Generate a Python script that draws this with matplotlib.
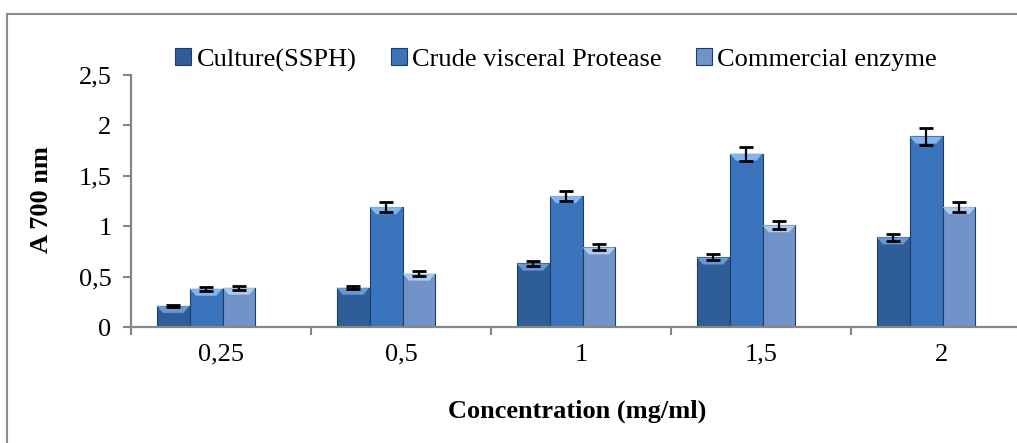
import matplotlib
matplotlib.use("Agg")
import matplotlib.pyplot as plt
from matplotlib.patches import Polygon, Rectangle
import numpy as np

plt.rcParams['font.family'] = ['Liberation Serif', 'DejaVu Serif']

# data
concentrations = ["0,25", "0,5", "1", "1,5", "2"]
culture = [0.21, 0.39, 0.63, 0.69, 0.89]
crude = [0.38, 1.19, 1.30, 1.72, 1.89]
commercial = [0.39, 0.53, 0.79, 1.01, 1.19]
culture_err = [0.01, 0.015, 0.025, 0.03, 0.035]
crude_err = [0.02, 0.05, 0.05, 0.07, 0.08]
commercial_err = [0.02, 0.025, 0.03, 0.04, 0.05]
series_names = ["Culture(SSPH)", "Crude visceral Protease", "Commercial enzyme"]

colors = ["#2e5d98", "#3a74bc", "#7094c9"]
top_colors = ["#6f9fd8", "#8dbcf0", "#b4cff0"]

fig = plt.figure(figsize=(10.17, 4.43), dpi=100)
ax = fig.add_axes([131 / 1017, 116 / 443, 900 / 1017, 252 / 443])

x = np.arange(len(concentrations))
w = 0.183
shift = -0.083
handles = []
for k, (vals, errs) in enumerate(zip([culture, crude, commercial],
                                     [culture_err, crude_err, commercial_err])):
    pos = x + shift + (k - 1) * w
    bars = ax.bar(pos, vals, w, color=colors[k], edgecolor="#1f3d66",
                  linewidth=0.8, label=series_names[k], zorder=2)
    handles.append(bars)
    # light bevel on the top of each bar
    for b in bars:
        x0 = b.get_x()
        x1 = x0 + b.get_width()
        h = b.get_height()
        d = 0.07
        poly = Polygon([(x0, h), (x1, h), (x1 - 0.035, h - d), (x0 + 0.035, h - d)],
                       closed=True, facecolor=top_colors[k], edgecolor="none",
                       alpha=0.9, zorder=3)
        ax.add_patch(poly)
    ax.errorbar(pos, vals, yerr=errs, fmt="none", ecolor="black",
                elinewidth=1.6, capsize=5, capthick=2, zorder=4)

ax.set_xlim(-0.5, 4.5)
ax.set_ylim(0, 2.5)
ax.set_yticks([0, 0.5, 1, 1.5, 2, 2.5])
ax.set_yticklabels(["0", "0,5", "1", "1,5", "2", "2,5"])
ax.set_xticks(x)
ax.set_xticklabels(concentrations)
ax.set_xticks(np.arange(-0.5, 5, 1), minor=True)
ax.tick_params(axis="x", which="major", length=0, pad=12, labelsize=19)
ax.tick_params(axis="x", which="minor", length=6, width=1.5, color="#868686")
ax.tick_params(axis="y", length=6, width=1.5, color="#868686", labelsize=19, pad=8)

for s in ["top", "right"]:
    ax.spines[s].set_visible(False)
for s in ["left", "bottom"]:
    ax.spines[s].set_color("#868686")
    ax.spines[s].set_linewidth(1.6)

fig.text(577 / 1017, 1 - 411 / 443, "Concentration (mg/ml)", ha="center",
         va="center", fontsize=19, fontweight="bold")
fig.text(41 / 1017, 1 - 200 / 443, "A 700 nm", ha="center", va="center",
         rotation=90, fontsize=19, fontweight="bold")

fig.legend(handles=handles, loc="center", bbox_to_anchor=(556 / 1017, 1 - 60 / 443),
           ncol=3, frameon=False, fontsize=19, handlelength=0.6, handleheight=0.6,
           handletextpad=0.2, columnspacing=1.3, borderaxespad=0)

# chart outer border
fig.patches.append(Rectangle((7 / 1017, -0.1), 1.2, 1.1 - 14 / 443,
                             transform=fig.transFigure, fill=False,
                             edgecolor="#8c8c8c", linewidth=1.5))

fig.savefig("out.png", dpi=100)
